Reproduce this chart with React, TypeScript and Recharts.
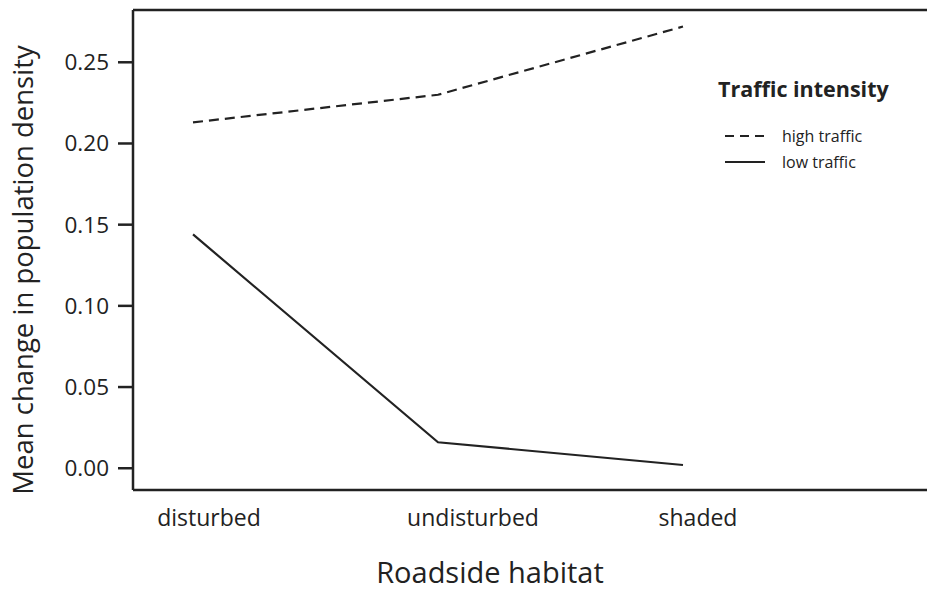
import React from 'react';
import {
  LineChart,
  Line,
  XAxis,
  YAxis,
  ReferenceLine,
  Label
} from 'recharts';

// Datos
const habitats = ['disturbed', 'undisturbed', 'shaded'];
const habitatPos = [1, 2, 3];
const highTraffic = [0.213, 0.230, 0.272];
const lowTraffic = [0.144, 0.016, 0.002];
const yTicks = [0, 0.05, 0.1, 0.15, 0.2, 0.25];

const data = habitats.map((name, i) => ({
  name,
  x: habitatPos[i],
  high: highTraffic[i],
  low: lowTraffic[i]
}));

const Y_MIN = -0.0134;
const Y_MAX = 0.2822;
const X_MIN = 0.755;
const X_MAX = 3.996;

const FONT = '"Open Sans", "Noto Sans", sans-serif';
const INK = '#222';

// desplazamiento de etiquetas del eje X (como en el original)
const tickShift = [16, 35, 15];

const HabitatTick = (props: any) => {
  const { x, y, payload, index } = props;
  return (
    <text
      x={x + (tickShift[index] ?? 0)}
      y={y + 36}
      textAnchor="middle"
      fontFamily={FONT}
      fontSize={23}
      fill={INK}
    >
      {habitats[index] ?? payload.value}
    </text>
  );
};

const YTitle = (props: any) => {
  const { viewBox } = props;
  const cx = viewBox.x + 22;
  const cy = viewBox.y + viewBox.height / 2 + 20;
  return (
    <text
      x={cx}
      y={cy}
      transform={`rotate(-90 ${cx} ${cy})`}
      textAnchor="middle"
      dominantBaseline="central"
      fontFamily={FONT}
      fontSize={27.5}
      fill={INK}
    >
      Mean change in population density
    </text>
  );
};

const XTitle = (props: any) => {
  const { viewBox } = props;
  return (
    <text
      x={viewBox.x + 357}
      y={viewBox.y + 81}
      textAnchor="middle"
      dominantBaseline="central"
      fontFamily={FONT}
      fontSize={29}
      fill={INK}
    >
      Roadside habitat
    </text>
  );
};

const TrafficLegend = () => (
  <div style={{ position: 'absolute', left: 718, top: 74, fontFamily: FONT, color: INK }}>
    <div style={{ fontWeight: 700, fontSize: 21.5, marginBottom: 20 }}>Traffic intensity</div>
    {[
      { label: 'high traffic', dash: '9 6' },
      { label: 'low traffic', dash: undefined }
    ].map((item) => (
      <div key={item.label} style={{ display: 'flex', alignItems: 'center', height: 26, paddingLeft: 7 }}>
        <svg width={40} height={10} style={{ marginRight: 17 }}>
          <line x1={0} y1={5} x2={40} y2={5} stroke={INK} strokeWidth={2} strokeDasharray={item.dash} />
        </svg>
        <span style={{ fontSize: 16 }}>{item.label}</span>
      </div>
    ))}
  </div>
);

export default function App() {
  return (
    <div style={{ position: 'absolute', left: 0, top: 0, width: 927, height: 593, background: '#fff' }}>
      <LineChart
        width={927}
        height={593}
        data={data}
        margin={{ top: 10, right: 0, left: 0, bottom: 0 }}
      >
        <XAxis
          type="number"
          dataKey="x"
          domain={[X_MIN, X_MAX]}
          ticks={habitatPos}
          allowDataOverflow
          height={103}
          tickLine={false}
          tickSize={0}
          tickMargin={0}
          axisLine={{ stroke: INK, strokeWidth: 2.5 }}
          tick={<HabitatTick />}
        >
          <Label content={<XTitle />} />
        </XAxis>
        <YAxis
          type="number"
          domain={[Y_MIN, Y_MAX]}
          ticks={yTicks}
          allowDataOverflow
          width={133}
          tickSize={15}
          tickMargin={9}
          axisLine={{ stroke: INK, strokeWidth: 2.5 }}
          tickLine={{ stroke: INK, strokeWidth: 2.5 }}
          tick={{ fill: INK, fontSize: 22.5, fontFamily: FONT }}
          tickFormatter={(v: number) => v.toFixed(2)}
        >
          <Label content={<YTitle />} />
        </YAxis>
        <ReferenceLine y={Y_MAX} stroke={INK} strokeWidth={2.5} ifOverflow="extendDomain" />
        <Line
          type="linear"
          dataKey="high"
          stroke={INK}
          strokeWidth={2.2}
          strokeDasharray="10 6"
          dot={false}
          isAnimationActive={false}
        />
        <Line
          type="linear"
          dataKey="low"
          stroke={INK}
          strokeWidth={2.2}
          dot={false}
          isAnimationActive={false}
        />
      </LineChart>
      <TrafficLegend />
    </div>
  );
}
